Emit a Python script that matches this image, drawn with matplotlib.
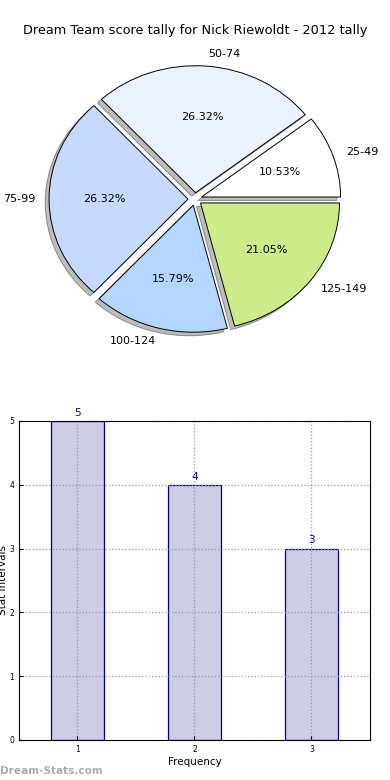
import matplotlib
matplotlib.use("Agg")
import matplotlib.pyplot as plt
import matplotlib.patches as mpatches

# Data
pie_labels = ["25-49", "50-74", "75-99", "100-124", "125-149"]
pie_counts = [2, 5, 5, 3, 4]
pie_colors = ["#FFFFFF", "#EAF2FF", "#C6D9FF", "#B4D6FF", "#CEEB8B"]

bar_x = [1, 2, 3]
bar_values = [5, 4, 3]
bar_ticks = ["1", "2", "3"]

title = "Dream Team score tally for Nick Riewoldt - 2012 tally"

fig = plt.figure(figsize=(3.9, 7.8), dpi=100)
fig.patch.set_facecolor("white")

# Pie
axp = fig.add_axes([0.0545, 0.5413, 0.891, 0.407])
wedges, texts, autotexts = axp.pie(
    pie_counts, labels=pie_labels, colors=pie_colors, explode=[0.05] * 5,
    autopct="%1.2f%%", shadow=True, startangle=0,
    wedgeprops=dict(edgecolor="black", linewidth=0.7),
    textprops=dict(fontsize=8))
axp.set_aspect("auto")
axp.set_xlim(-1.25, 1.25)
axp.set_ylim(-1.25, 1.25)
for p in axp.patches:
    if isinstance(p, mpatches.Shadow):
        p.set_facecolor("#888888")
        p.set_alpha(0.55)
fig.text(0.5, 0.961, title, ha="center", va="center", fontsize=9.3)

# Bars
axb = fig.add_axes([0.0487, 0.0513, 0.9, 0.409])
axb.bar(bar_x, bar_values, width=0.45, color=(0, 0, 0.5, 0.2),
        edgecolor="#000080", linewidth=0.9, zorder=2)
for x, v in zip(bar_x, bar_values):
    axb.text(x, v + 0.05, str(v), ha="center", va="bottom",
             fontsize=7.5, color="#000080")
axb.set_xlim(0.5, 3.5)
axb.set_ylim(0, 5)
axb.set_xticks(bar_x)
axb.set_xticklabels(bar_ticks)
axb.set_yticks([0, 1, 2, 3, 4, 5])
axb.tick_params(labelsize=5.5, direction="in", length=3)
axb.grid(True, linestyle=":", color="#999999", linewidth=0.9, zorder=3)
axb.set_axisbelow(False)
for s in axb.spines.values():
    s.set_zorder(5)
axb.set_xlabel("Frequency", fontsize=7.5, labelpad=2)
axb.set_ylabel("Stat Intervals", fontsize=7.5, labelpad=1)

fig.text(0.0, 0.012, "Dream-Stats.com", ha="left", va="center",
         fontsize=7.6, color="#AAAAAA", fontweight="bold")

fig.savefig("out.png", dpi=100)
